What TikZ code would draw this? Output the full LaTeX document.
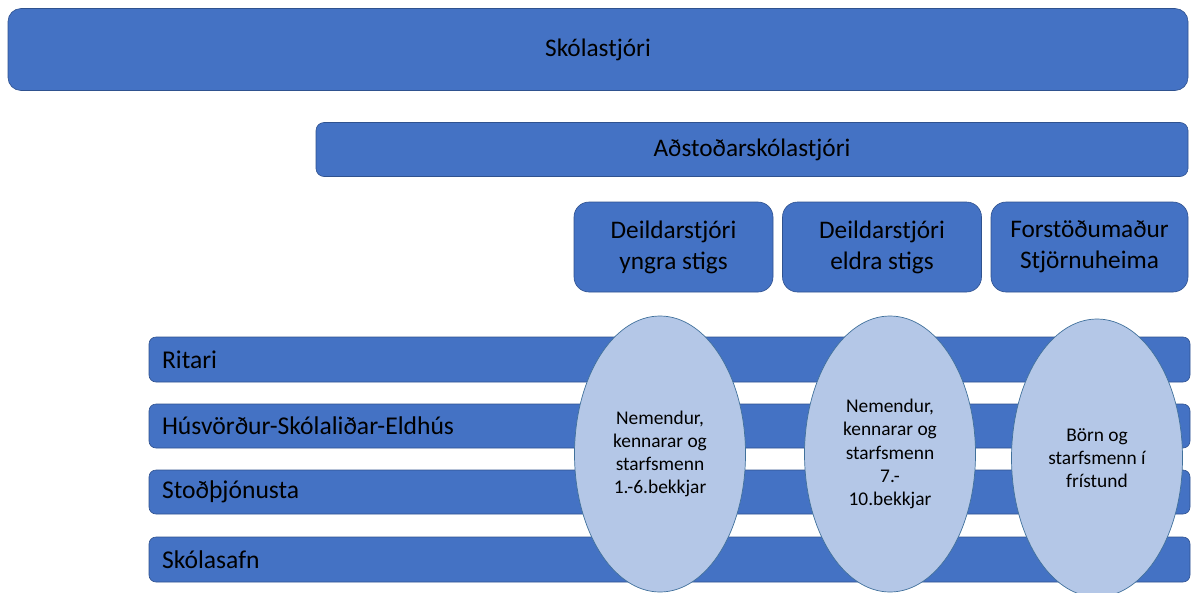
\documentclass[tikz,border=0pt]{standalone}
\usepackage{fontspec}
\setmainfont{Carlito}
\definecolor{boxblue}{HTML}{4472C4}
\definecolor{edgeblue}{HTML}{2F528F}
\definecolor{ellblue}{HTML}{B4C7E7}
\definecolor{elledge}{HTML}{41719C}
\usetikzlibrary{shapes.geometric}
\begin{document}
\begin{tikzpicture}[x=1pt,y=-1pt,
  box/.style={draw=edgeblue, line width=0.6pt, fill=boxblue, inner sep=0pt, outer sep=0pt,
    font=\fontsize{25.3}{31}\selectfont, text=black, align=center},
  bar/.style={box, rounded corners=7pt, minimum height=45pt, text width=1015pt, inner xsep=13pt, align=left,
    font=\fontsize{25.6}{31}\selectfont},
  oval/.style={ellipse, draw=elledge, line width=0.7pt, fill=ellblue, inner sep=0pt,
    minimum width=171pt, minimum height=276pt, align=center, text=black,
    font=\fontsize{19.4}{23.2}\selectfont}
]
\useasboundingbox (0,0) rectangle (1193,592);
\node[box, rounded corners=13pt, minimum width=1180pt, minimum height=82pt] (head) at (598,49.5) {Skólastjóri};
\node[box, rounded corners=8pt, minimum width=872pt, minimum height=54pt] (asst) at (752,149.5) {Aðstoðarskólastjóri};
\node[box, rounded corners=15pt, minimum width=199pt, minimum height=90pt] (d1) at (673.5,247) {Deildarstjóri\\yngra stigs};
\node[box, rounded corners=15pt, minimum width=199pt, minimum height=90pt] (d2) at (882,247) {Deildarstjóri\\eldra stigs};
\node[box, rounded corners=15pt, minimum width=197pt, minimum height=90pt] (d3) at (1089.5,247) {Forstöðumaður\\Stjörnuheima};
\node[bar] (b1) at (669.5,359.5) {Ritari};
\node[bar, minimum height=44pt] (b2) at (669.5,426) {Húsvörður-Skólaliðar-Eldhús};
\node[bar, minimum height=44pt] (b3) at (669.5,492) {Stoðþjónusta};
\node[bar] (b4) at (669.5,559.5) {Skólasafn};
\node[oval] (e1) at (660,454) {Nemendur,\\kennarar og\\starfsmenn\\1.-6.bekkjar};
\node[oval] (e2) at (890,454) {Nemendur,\\kennarar og\\starfsmenn\\7.-\\10.bekkjar};
\node[oval, minimum height=278pt] (e3) at (1097,458) {Börn og\\starfsmenn í\\frístund};
\end{tikzpicture}
\end{document}
